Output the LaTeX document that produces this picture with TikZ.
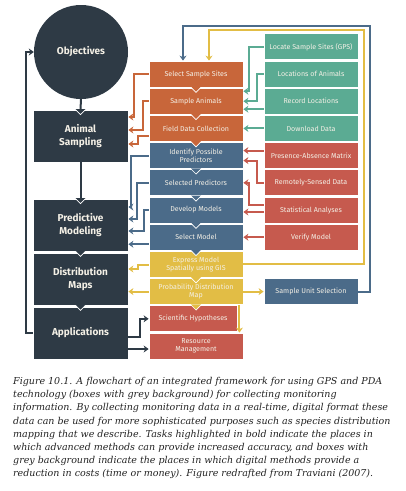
\documentclass[tikz,border=0pt]{standalone}
\usepackage{fontspec}
\setsansfont{Fira Sans}
\newfontfamily\capfont{DejaVu Serif}
\usetikzlibrary{arrows.meta,calc}

\definecolor{slate}{HTML}{2E3A45}
\definecolor{rust}{HTML}{C8663A}
\definecolor{jade}{HTML}{5BAB93}
\definecolor{brick}{HTML}{C65A4E}
\definecolor{steel}{HTML}{4B6B89}
\definecolor{mustard}{HTML}{E2BD45}
\definecolor{paper}{HTML}{F4F0E6}
\definecolor{ink}{HTML}{222222}

% small v-shaped tab below a point
\newcommand{\notch}[2]{%
  \fill[#2] ($(#1)+(-5,-0.6)$) -- ($(#1)+(0,5)$) -- ($(#1)+(5,-0.6)$) -- cycle;
  \draw[white,line width=0.7pt] ($(#1)+(-5,0)$) -- ($(#1)+(0,5)$) -- ($(#1)+(5,0)$);}

\begin{document}
\begin{tikzpicture}[x=1pt,y=-1pt,
    task/.style={draw=white,line width=0.8pt,minimum width=94pt,minimum height=26pt,inner sep=1pt,
      text=paper,align=center,font=\sffamily\fontsize{7.1}{8}\selectfont},
    stage/.style={draw=white,line width=0.8pt,fill=slate,minimum width=95pt,minimum height=52pt,
      text=paper,align=center,font=\sffamily\bfseries\fontsize{10}{12.8}\selectfont},
    link/.style={line width=2pt,-{Stealth[length=5pt,width=7pt]}}]
  \useasboundingbox (0,0) rectangle (406,491);

  % left column
  \node[circle,fill=slate,minimum size=94pt,text=paper,font=\sffamily\bfseries\fontsize{10}{12.8}\selectfont] (obj) at (81,52) {Objectives};
  \node[stage] (samp) at (80.5,136) {Animal\\Sampling};
  \node[stage] (pred) at (80.5,225) {Predictive\\Modeling};
  \node[stage] (dist) at (80.5,279) {Distribution\\Maps};
  \node[stage] (appl) at (80.5,333) {Applications};

  % middle column
  \node[task,fill=rust] (sites) at (196,74) {Select Sample Sites};
  \node[task,fill=rust] (anim) at (196,101.2) {Sample Animals};
  \node[task,fill=rust] (field) at (196,128.4) {Field Data Collection};
  \node[task,fill=steel] (ident) at (196,155.6) {Identify Possible\\Predictors};
  \node[task,fill=steel] (selpred) at (196,182.8) {Selected Predictors};
  \node[task,fill=steel] (devel) at (196,210) {Develop Models};
  \node[task,fill=steel] (selmod) at (196,237.2) {Select Model};
  \node[task,fill=mustard] (express) at (196,264.4) {Express Model\\Spatially using GIS};
  \node[task,fill=mustard] (probmap) at (196,291.6) {Probability Distribution\\Map};
  \node[task,fill=brick,minimum width=88pt] (sci) at (193,318.8) {Scientific Hypotheses};
  \node[task,fill=brick] (resource) at (196,346) {Resource\\Management};

  % right column
  \node[task,fill=jade] (locate) at (311,46.8) {Locate Sample Sites (GPS)};
  \node[task,fill=jade] (locanim) at (311,74) {Locations of Animals};
  \node[task,fill=jade] (record) at (311,101.2) {Record Locations};
  \node[task,fill=jade] (download) at (311,128.4) {Download Data};
  \node[task,fill=brick] (presence) at (311,155.6) {Presence-Absence Matrix};
  \node[task,fill=brick] (remote) at (311,182.8) {Remotely-Sensed Data};
  \node[task,fill=brick] (stat) at (311,210) {Statistical Analyses};
  \node[task,fill=brick] (verify) at (311,237.2) {Verify Model};
  \node[task,fill=steel] (unitsel) at (311,291.6) {Sample Unit Selection};

  % tabs between stacked boxes
  \notch{sites.south}{rust} \notch{anim.south}{rust} \notch{field.south}{rust}
  \notch{ident.south}{steel} \notch{selpred.south}{steel} \notch{devel.south}{steel}
  \notch{selmod.south}{steel} \notch{express.south}{mustard} \notch{probmap.south}{mustard}
  \notch{pred.south}{slate} \notch{dist.south}{slate}

  % main stages
  \draw[slate,line width=2pt] (obj.south) -- (samp.north);
  \draw[slate,line width=2pt] (samp.south) -- (pred.north);
  \notch{samp.north}{slate} \notch{pred.north}{slate}
  \draw[link,slate] (appl.west) -- ++(-7,0) |- (obj.west);
  \draw[link,slate] ([yshift=-4pt]appl.east) -- ++(12,0) |- (sci.west);
  \draw[link,slate] ([yshift=-16pt]appl.east) -- ([yshift=-16pt]appl.east -| resource.west);

  % sampling
  \draw[link,rust] (sites.west) -- ++(-15,0) |- ([yshift=19pt]samp.east);
  \draw[link,rust] (anim.west) -- ++(-6,0) |- ([yshift=6pt]samp.east);
  \draw[link,rust] ([yshift=-8pt]field.west) -- ++(-11,0) |- ([yshift=-8pt]samp.east);
  \draw[link,jade] (locate.west) -- ++(-15,0) |- ([yshift=10pt]anim.east);
  \draw[link,jade] (locanim.west) -- ++(-7,0) |- (anim.east);
  \draw[link,jade] ([yshift=-8pt]record.west) -- ([yshift=-8pt]record.west -| anim.east);
  \draw[link,jade] (download.west) -- (download.west -| field.east);

  % modeling
  \draw[link,steel] (ident.west) -- ++(-18,0) |- ([yshift=18pt]pred.east);
  \draw[link,steel] (selpred.west) -- ++(-12,0) |- ([yshift=6pt]pred.east);
  \draw[link,steel] (devel.west) -- ++(-5,0) |- ([yshift=-6pt]pred.east);
  \draw[link,steel] ([yshift=-7pt]selmod.west) -- ([yshift=-7pt]selmod.west -| pred.east);
  \draw[link,brick] ([yshift=5pt]presence.west) -- ([yshift=5pt]presence.west -| ident.east);
  \draw[link,brick] (remote.west) -- ++(-7,0) |- ([yshift=-5pt]ident.east);
  \draw[link,brick] ([yshift=5pt]stat.west) -- ++(-15,0) |- (selpred.east);
  \draw[link,brick] ([yshift=-2pt]stat.west) -- ([yshift=-2pt]stat.west -| devel.east);
  \draw[link,brick,{Stealth[length=5pt,width=7pt]}-] (selmod.east) -- (verify.west);

  % maps
  \draw[link,mustard] ([yshift=-1pt]express.west) -- ++(-11,0) |- ([yshift=10pt]dist.east);
  \draw[link,mustard] (probmap.west) -- (probmap.west -| dist.east);
  \draw[link,mustard] (probmap.east) -- (unitsel.west);
  \draw[link,mustard] ([xshift=-4pt]probmap.south east) -- ([xshift=-4pt]probmap.south east |- resource.north);
  \draw[link,mustard,{Stealth[length=5pt,width=7pt]}-] ([xshift=13pt]sites.north) -- ++(0,-31) -| ([xshift=121pt]express.east) -- (express.east);
  \draw[link,steel] (unitsel.east) -- ++(12,0) |- ([xshift=-13pt,yshift=35pt]sites.north) -- ([xshift=-13pt]sites.north);

  \node[anchor=north west,inner sep=0pt,align=left,text=ink,
    font=\capfont\itshape\fontsize{9.5}{13.2}\selectfont] (caption) at (13,377)
    {Figure 10.1. A flowchart of an integrated framework for using GPS and PDA\\
     technology (boxes with grey background) for collecting monitoring\\
     information. By collecting monitoring data in a real-time, digital format these\\
     data can be used for more sophisticated purposes such as species distribution\\
     mapping that we describe. Tasks highlighted in bold indicate the places in\\
     which advanced methods can provide increased accuracy, and boxes with\\
     grey background indicate the places in which digital methods provide a\\
     reduction in costs (time or money). Figure redrafted from Traviani (2007).};
\end{tikzpicture}
\end{document}
